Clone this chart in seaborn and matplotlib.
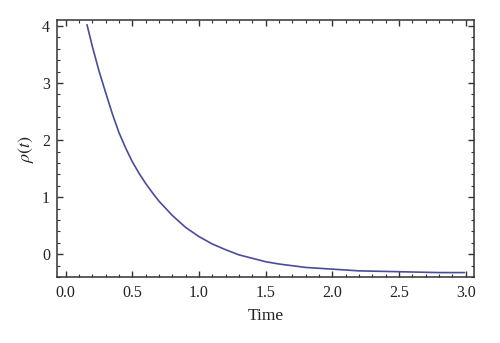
import matplotlib
matplotlib.use("Agg")
import matplotlib.pyplot as plt
import seaborn as sns
import pandas as pd
from matplotlib.ticker import MultipleLocator

# values
time_vals = [0.16, 0.20, 0.25, 0.30, 0.35, 0.40, 0.45, 0.50, 0.55, 0.60, 0.65, 0.70,
             0.80, 0.90, 1.00, 1.10, 1.20, 1.30, 1.40, 1.50, 1.60, 1.80,
             2.00, 2.20, 2.40, 2.60, 2.80, 2.99]
rho_vals = [4.02, 3.64, 3.21, 2.83, 2.46, 2.13, 1.86, 1.62, 1.42, 1.24, 1.08, 0.93,
            0.68, 0.47, 0.31, 0.18, 0.08, -0.01, -0.07, -0.13, -0.17, -0.23,
            -0.26, -0.29, -0.30, -0.31, -0.32, -0.32]

df = pd.DataFrame({"Time": time_vals, "rho": rho_vals})

sns.set_style("ticks")
plt.rcParams['font.family'] = ['Liberation Serif', 'DejaVu Serif']
plt.rcParams['mathtext.fontset'] = 'stix'

fig = plt.figure(figsize=(5.0, 3.43), dpi=100)
ax = fig.add_axes([0.114, 0.192, 0.834, 0.750])

sns.lineplot(data=df, x="Time", y="rho", ax=ax, color="#4b4b9b", linewidth=1.2)

ax.set_xlim(-0.065, 3.062)
ax.set_ylim(-0.40, 4.105)
ax.xaxis.set_major_locator(MultipleLocator(0.5))
ax.xaxis.set_minor_locator(MultipleLocator(0.1))
ax.yaxis.set_major_locator(MultipleLocator(1))
ax.yaxis.set_minor_locator(MultipleLocator(0.2))
ax.xaxis.set_major_formatter(matplotlib.ticker.FormatStrFormatter('%.1f'))

frame_col = "#333333"
for sp in ax.spines.values():
    sp.set_color(frame_col)
    sp.set_linewidth(1.1)
ax.tick_params(which='both', direction='in', top=True, right=True,
               color=frame_col, labelsize=11.5, labelcolor='#222222')
ax.tick_params(which='major', length=4.5, width=1.0)
ax.tick_params(which='minor', length=2.5, width=0.8)
ax.tick_params(axis='x', which='major', pad=6)
ax.tick_params(axis='y', which='major', pad=5)

ax.set_xlabel("Time", fontsize=12.5, color='#222222', labelpad=5)
ax.set_ylabel(r"$\rho(t)$", fontsize=13, color='#222222', labelpad=4)

plt.savefig("out.png", dpi=100)
plt.close()
